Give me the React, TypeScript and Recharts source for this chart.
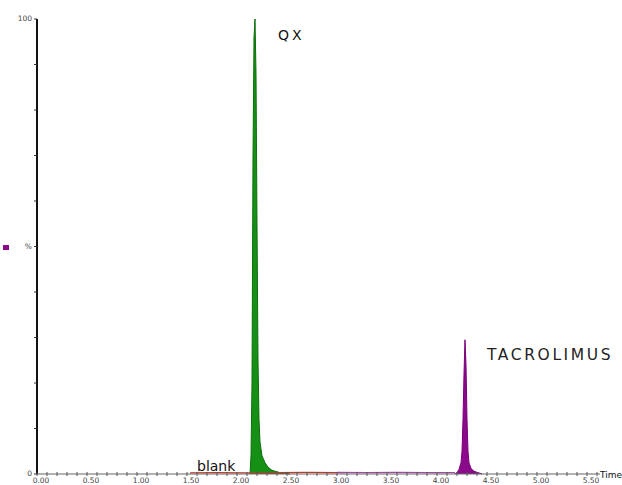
import React from "react";
import { ComposedChart, Area, Line, XAxis, YAxis, Customized } from "recharts";

// Retention time (min) and relative intensity (%) for each trace
const qxTimes = [2.13, 2.14, 2.15, 2.16, 2.17, 2.18, 2.19, 2.2, 2.21, 2.22, 2.23, 2.25, 2.28, 2.31, 2.35, 2.43, 2.53];
const qxValues = [0, 4, 20, 70, 96, 100, 88, 55, 25, 12, 7, 4, 2.5, 1.5, 0.8, 0.3, 0];

const tacTimes = [4.18, 4.2, 4.22, 4.24, 4.25, 4.26, 4.27, 4.28, 4.29, 4.3, 4.31, 4.32, 4.34, 4.37, 4.41, 4.45];
const tacValues = [0, 0.3, 1, 2.5, 5, 12, 22, 29.5, 24, 12, 5, 2.5, 1.2, 0.6, 0.3, 0];

const blankTimes = [1.53, 1.8, 2.1, 2.4, 2.7, 3.0, 3.08];
const blankValues = [0.25, 0.3, 0.25, 0.3, 0.35, 0.3, 0.3];

const tacBaseTimes = [3.0, 3.3, 3.6, 3.9, 4.18];
const tacBaseValues = [0.35, 0.3, 0.35, 0.3, 0.3];

const minorTicks = Array.from({ length: 57 }, (_, i) => Math.round(i * 10) / 100);
const majorLabels = ["0.00", "0.50", "1.00", "1.50", "2.00", "2.50", "3.00", "3.50", "4.00", "4.50", "5.00", "5.50"];
const yTicks = [0, 10, 20, 30, 40, 50, 60, 70, 80, 90, 100];

type Row = { t: number; qx?: number; tac?: number; blank?: number; tacBase?: number };

function buildRows(): Row[] {
  const map = new Map<number, Row>();
  const put = (times: number[], values: number[], key: keyof Row) => {
    times.forEach((t, i) => {
      const row = map.get(t) ?? { t };
      (row as any)[key] = values[i];
      map.set(t, row);
    });
  };
  put(qxTimes, qxValues, "qx");
  put(tacTimes, tacValues, "tac");
  put(blankTimes, blankValues, "blank");
  put(tacBaseTimes, tacBaseValues, "tacBase");
  return Array.from(map.values()).sort((a, b) => a.t - b.t);
}

const rows = buildRows();

const XTick = (props: any) => {
  const { x, y, payload } = props;
  const v = payload.value as number;
  const idx = Math.round(v * 100);
  const isMajor = idx % 50 === 0;
  const label = isMajor ? majorLabels[idx / 50] : null;
  return (
    <g>
      <line x1={x} x2={x} y1={y - 2} y2={y + 2} stroke="#555" strokeWidth={1} />
      {label && (
        <text x={x + 4} y={y + 9} fontSize={7.5} fill="#444" textAnchor="middle" fontFamily="DejaVu Sans">
          {label}
        </text>
      )}
    </g>
  );
};

const YTick = (props: any) => {
  const { x, y, payload } = props;
  const v = payload.value as number;
  const label = v === 100 ? "100" : v === 50 ? "%" : v === 0 ? "0" : null;
  return (
    <g>
      <line x1={x - 3} x2={x} y1={y} y2={y} stroke="#333" strokeWidth={1} />
      {label && (
        <text x={x - 5} y={y + 2} fontSize={7.5} fill="#444" textAnchor="end" fontFamily="DejaVu Sans">
          {label}
        </text>
      )}
    </g>
  );
};

export default function App() {
  return (
    <div style={{ position: "absolute", left: 0, top: 0, width: 622, height: 485, background: "#fff" }}>
      <ComposedChart
        width={622}
        height={485}
        data={rows}
        margin={{ top: 19, right: 22, bottom: 10, left: 36 }}
      >
        <XAxis
          dataKey="t"
          type="number"
          domain={[0, 5.63]}
          ticks={minorTicks}
          interval={0}
          height={1}
          tickSize={0}
          tickMargin={0}
          tickLine={false}
          axisLine={{ stroke: "#666", strokeWidth: 1 }}
          tick={<XTick />}
          allowDataOverflow
        />
        <YAxis
          type="number"
          domain={[0, 100]}
          ticks={yTicks}
          interval={0}
          width={1}
          tickSize={0}
          tickMargin={0}
          tickLine={false}
          axisLine={{ stroke: "#111", strokeWidth: 2 }}
          tick={<YTick />}
        />
        <Line
          dataKey="blank"
          stroke="#c0392b"
          strokeWidth={1.2}
          dot={false}
          connectNulls
          isAnimationActive={false}
        />
        <Line
          dataKey="tacBase"
          stroke="#a24aa2"
          strokeWidth={1.2}
          dot={false}
          connectNulls
          isAnimationActive={false}
        />
        <Area
          dataKey="qx"
          type="linear"
          stroke="#0c6e0c"
          strokeWidth={1}
          fill="#159015"
          fillOpacity={1}
          connectNulls
          isAnimationActive={false}
        />
        <Area
          dataKey="tac"
          type="linear"
          stroke="#7a007a"
          strokeWidth={1}
          fill="#8b0a8b"
          fillOpacity={1}
          connectNulls
          isAnimationActive={false}
        />
        <Customized
          component={() => (
            <g fontFamily="DejaVu Sans, sans-serif">
              <text x={278} y={40} fontSize={14} fill="#111" letterSpacing={3}>QX</text>
              <text x={487} y={360} fontSize={15.5} fill="#222" letterSpacing={2.6}>TACROLIMUS</text>
              <text x={197} y={471} fontSize={14} fill="#111">blank</text>
              <text x={600} y={478} fontSize={9} fill="#111">Time</text>
              <rect x={3} y={245} width={6} height={5} fill="#8b0a8b" />
            </g>
          )}
        />
      </ComposedChart>
    </div>
  );
}
